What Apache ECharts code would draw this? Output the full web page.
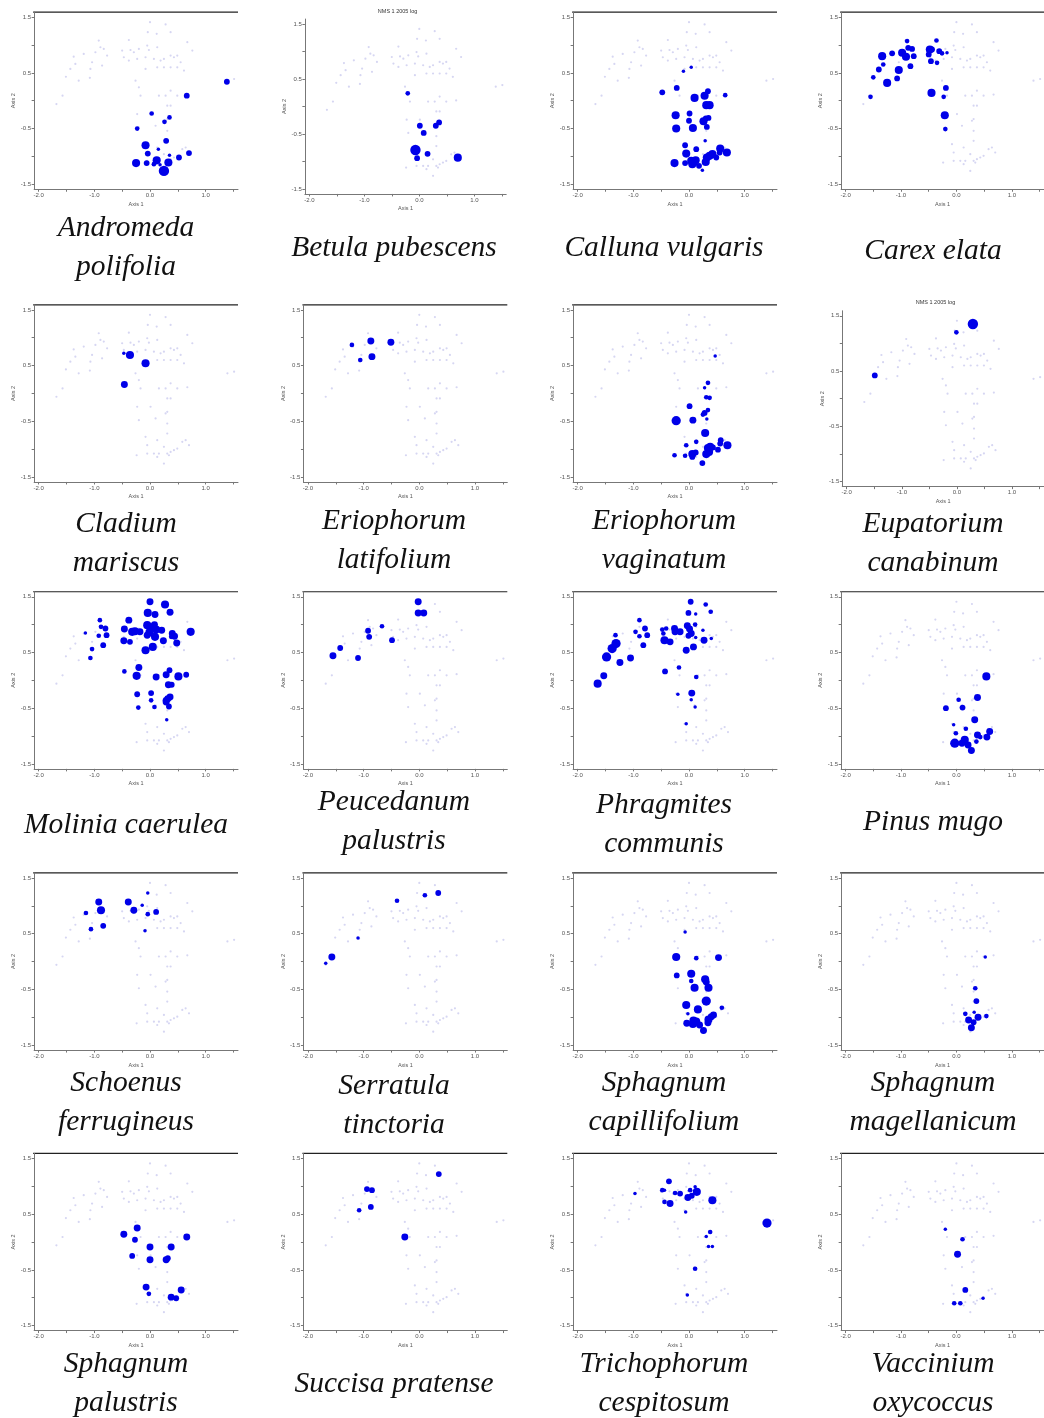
<!DOCTYPE html>
<html><head><meta charset="utf-8">
<script src="https://cdn.jsdelivr.net/npm/echarts@6/dist/echarts.min.js"></script>
<style>html,body{margin:0;padding:0;background:#fff}#c{width:1044px;height:1418px}</style>
</head><body><div id="c"></div><script>
// ---------- DATA ----------
const xTicks = [-2, -1.5, -1, -0.5, 0, 0.5, 1, 1.5];
const xTickLabels = [-2, -1, 0, 1];
const yTicks = [-1.5, -1, -0.5, 0, 0.5, 1, 1.5];
const yTickLabels = [-1.5, -0.5, 0.5, 1.5];
const panelTitle = "NMS 1 2005 log";
const axisNames = ["Axis 1", "Axis 2"];

// sample plots (NMS scores) shown faintly in every panel
const samplePlots = [
 [0.00,1.41],[0.28,1.37],[-0.04,1.23],[0.12,1.20],[0.37,1.23],[-0.38,1.09],[-0.92,1.08],[-0.05,0.99],
 [0.13,0.96],[-0.02,0.91],[0.67,1.05],[0.76,0.90],[-0.89,0.96],[-0.83,0.93],[-0.98,0.87],[-1.19,0.84],
 [-1.37,0.79],[-0.77,0.81],[-0.50,0.90],[-0.35,0.91],[-0.29,0.87],[-0.20,0.93],[-0.47,0.78],[-0.38,0.72],
 [-0.23,0.75],[-0.08,0.78],[0.07,0.75],[0.19,0.72],[0.25,0.75],[0.37,0.81],[0.43,0.78],[0.49,0.81],
 [0.55,0.69],[-1.43,0.57],[-1.34,0.66],[-1.04,0.69],[-0.86,0.63],[-1.51,0.43],[-1.07,0.57],[-1.28,0.36],
 [-1.08,0.41],[-0.08,0.57],[0.13,0.60],[0.25,0.60],[0.37,0.60],[0.49,0.60],[0.61,0.54],[-0.26,0.36],
 [-0.20,0.24],[-1.57,0.09],[-1.68,-0.06],[-0.17,0.09],[0.16,0.09],[0.28,0.09],[0.37,0.18],[0.49,0.09],
 [0.67,0.11],[1.39,0.36],[1.51,0.39],[-0.23,-0.24],[0.01,-0.24],[0.31,-0.09],[0.37,-0.09],[0.28,-0.36],
 [0.31,-0.33],[-0.20,-0.48],[0.10,-0.45],[0.31,-0.54],[-0.08,-0.78],[0.13,-0.84],[0.31,-0.72],[-0.05,-0.93],
 [0.25,-0.96],[0.58,-0.87],[0.64,-0.84],[0.70,-0.93],[0.49,-0.99],[-0.24,-1.11],[-0.05,-1.08],[0.07,-1.08],
 [0.16,-1.08],[0.31,-1.08],[0.37,-1.05],[0.43,-1.02],[0.13,-1.14],[0.25,-1.26],[0.34,-1.11]
];

const speciesNames = [
 "Andromeda\npolifolia","Betula pubescens","Calluna vulgaris","Carex elata",
 "Cladium\nmariscus","Eriophorum\nlatifolium","Eriophorum\nvaginatum","Eupatorium\ncanabinum",
 "Molinia caerulea","Peucedanum\npalustris","Phragmites\ncommunis","Pinus mugo",
 "Schoenus\nferrugineus","Serratula\ntinctoria","Sphagnum\ncapillifolium","Sphagnum\nmagellanicum",
 "Sphagnum\npalustris","Succisa pratense","Trichophorum\ncespitosum","Vaccinium\noxycoccus"
];

// [axis1, axis2, abundance]
const andromedaPolifolia = [[1.38,0.34,2],[0.66,0.09,2],[0.03,-0.23,1.5],[0.35,-0.30,1.5],[0.26,-0.38,1.5],[-0.23,-0.50,1.5],[0.29,-0.72,2],[-0.08,-0.80,3],[-0.04,-0.95,2],[0.15,-0.87,1],[0.70,-0.94,2],[0.35,-0.98,1],[0.52,-1.02,2],[-0.25,-1.12,3],[-0.06,-1.12,2],[0.12,-1.07,3],[0.07,-1.14,1.5],[0.18,-1.15,1],[0.33,-1.11,3],[0.25,-1.26,4]];
const betulaPubescens = [[-0.21,0.24,1.5],[0.01,-0.35,2],[0.08,-0.48,2],[0.30,-0.35,2],[0.36,-0.29,2],[-0.07,-0.79,4],[-0.04,-0.94,2],[0.15,-0.86,2],[0.70,-0.93,3]];
const callunaVulgaris = [[-0.10,0.53,1],[0.04,0.60,1],[-0.22,0.23,2],[-0.48,0.15,2],[0.10,0.05,3],[0.28,0.09,3],[0.34,0.17,2],[0.65,0.10,1.5],[0.31,-0.08,3],[0.37,-0.08,3],[-0.24,-0.26,3],[0.01,-0.23,2],[0.00,-0.36,2],[0.26,-0.37,3],[0.30,-0.32,2],[0.35,-0.31,2],[-0.23,-0.50,3],[0.07,-0.49,3],[0.32,-0.47,2],[0.29,-0.72,1],[-0.07,-0.80,2],[-0.05,-0.95,3],[0.13,-0.87,2],[0.56,-0.86,3],[0.55,-0.93,2],[0.68,-0.93,3],[0.37,-0.99,3],[0.42,-0.96,3],[0.32,-1.02,3],[0.49,-1.02,2],[-0.26,-1.12,3],[-0.07,-1.12,2],[0.04,-1.08,3],[0.08,-1.11,3],[0.12,-1.07,3],[0.06,-1.14,3],[0.18,-1.17,2],[0.30,-1.10,3],[0.24,-1.25,1]];
const carexElata = [[-1.55,0.07,1.5],[-1.50,0.42,1.5],[-1.40,0.56,2],[-1.32,0.65,1.5],[-1.34,0.80,3],[-1.25,0.32,3],[-1.16,0.85,2],[-1.04,0.55,3],[-1.07,0.40,2],[-0.98,0.86,3],[-0.91,0.79,3],[-0.89,1.07,1.5],[-0.87,0.95,2],[-0.80,0.93,2],[-0.77,0.80,2],[-0.83,0.62,2],[-0.48,0.92,3],[-0.44,0.92,2],[-0.50,0.83,2],[-0.36,1.08,1.5],[-0.31,0.89,2],[-0.26,0.85,1.5],[-0.17,0.86,1],[-0.46,0.71,2],[-0.35,0.68,1.5],[-0.45,0.14,3],[-0.19,0.23,2],[-0.23,0.07,1.5],[-0.21,-0.26,3],[-0.20,-0.51,1.5]];
const cladiumMariscus = [[-0.36,0.69,3],[-0.47,0.72,1],[-0.08,0.54,3],[-0.46,0.16,2.5]];
const eriophorumLatifolium = [[-1.21,0.87,1.5],[-1.06,0.60,1.5],[-0.87,0.94,2.5],[-0.85,0.66,2.5],[-0.51,0.92,2.5]];
const eriophorumVaginatum = [[0.47,0.67,1],[0.34,0.19,1.5],[0.28,0.10,1],[0.31,-0.07,1.5],[0.37,-0.08,1.5],[0.01,-0.23,2],[0.34,-0.30,1.5],[0.28,-0.35,2],[0.25,-0.38,1.5],[0.32,-0.46,1],[-0.23,-0.49,3.5],[0.07,-0.48,2.5],[0.29,-0.71,3],[-0.05,-0.93,1.5],[0.13,-0.87,1.5],[0.57,-0.84,2],[0.56,-0.90,2],[0.69,-0.93,3],[0.52,-1.01,2],[0.34,-0.98,3],[0.38,-0.96,3],[0.43,-0.97,2],[0.36,-1.05,3],[0.31,-1.09,3],[-0.26,-1.11,1.5],[-0.07,-1.12,1.5],[0.06,-1.09,3],[0.12,-1.06,2],[0.06,-1.14,2],[0.24,-1.25,2]];
const eupatoriumCanabinum = [[0.29,1.35,4],[-0.01,1.20,1.5],[-1.49,0.42,2]];
const moliniaCaerulea = [[0.00,1.41,2.5],[0.27,1.36,3],[-0.04,1.21,3],[0.09,1.18,2.5],[0.36,1.22,2.5],[-0.90,1.08,1.5],[-0.38,1.08,2.5],[-0.88,0.96,1.5],[-0.80,0.93,2],[-1.16,0.85,1],[-0.92,0.80,1.5],[-0.78,0.81,2],[-0.46,0.92,2.5],[-0.47,0.71,2.5],[-0.36,0.69,2],[-0.32,0.87,3],[-0.27,0.88,3],[-0.18,0.87,2.5],[-0.05,0.99,3],[0.02,0.95,3],[0.08,1.00,2.5],[-0.01,0.86,3],[0.11,0.91,3],[0.21,0.90,2.5],[-0.05,0.81,2.5],[0.09,0.78,3],[0.24,0.71,2.5],[0.40,0.84,2.5],[0.44,0.79,2.5],[0.48,0.67,2.5],[0.73,0.87,3],[0.38,0.78,1.5],[-0.84,0.63,2],[-1.04,0.56,1.5],[-1.07,0.40,1.5],[-0.08,0.54,3],[0.05,0.60,3],[-0.46,0.16,1.5],[-0.20,0.23,2.5],[-0.24,0.08,3],[0.11,0.06,2.5],[0.29,0.10,2.5],[0.35,0.18,2],[0.51,0.07,3],[0.65,0.10,2],[0.33,-0.08,2.5],[0.39,-0.08,2],[-0.23,-0.25,2],[0.02,-0.23,2],[0.02,-0.36,1.5],[0.29,-0.36,2.5],[0.32,-0.33,2.5],[0.36,-0.30,2.5],[0.29,-0.39,2.5],[-0.21,-0.49,1.5],[0.08,-0.48,1.5],[0.34,-0.47,2],[0.30,-0.71,1]];
const peucedanumPalustris = [[-1.55,0.44,2.5],[-1.42,0.58,2],[-1.10,0.40,2],[-0.92,0.89,2],[-0.90,0.78,2],[-0.67,0.97,1.5],[-0.49,0.72,2],[-0.02,1.41,2.5],[-0.02,1.21,2.5],[0.08,1.21,2.5]];
const phragmitesCommunis = [[-1.64,-0.06,3],[-1.53,0.08,2.5],[-1.48,0.42,3.5],[-1.38,0.57,3.5],[-1.31,0.66,3.5],[-1.32,0.81,1.5],[-1.24,0.32,2.5],[-1.05,0.40,2.5],[-0.96,0.87,1.5],[-0.89,1.08,1.5],[-0.89,0.79,1.5],[-0.82,0.63,2],[-0.79,0.93,2],[-0.75,0.81,2],[-0.48,0.91,1.5],[-0.46,0.84,1.5],[-0.44,0.72,3],[-0.41,0.93,1.5],[-0.34,0.69,2.5],[-0.26,0.93,2.5],[-0.25,0.87,2.5],[-0.16,0.87,2.5],[-0.43,0.16,2],[-0.18,0.23,1.5],[-0.05,0.54,2.5],[-0.01,0.80,2],[-0.03,0.98,2.5],[0.01,0.92,2.5],[0.11,1.00,1.5],[0.04,0.84,2.5],[0.12,0.77,1],[-0.01,1.21,2],[0.03,1.41,2],[0.12,1.19,1],[0.08,0.60,2.5],[0.27,0.72,2.5],[0.25,0.90,1],[0.30,1.36,1.5],[0.39,1.23,1.5],[0.40,0.75,1],[0.13,0.06,1.5],[-0.20,-0.25,1],[0.05,-0.23,2.5],[0.04,-0.35,1],[0.11,-0.48,1],[-0.05,-0.78,1]];
const pinusMugo = [[0.54,0.07,3],[0.38,-0.31,2.5],[0.04,-0.35,1.5],[-0.19,-0.50,2],[0.11,-0.49,2],[0.33,-0.71,2.5],[-0.05,-0.80,1],[0.17,-0.87,1.5],[-0.01,-0.95,1.5],[0.38,-0.98,2.5],[0.43,-1.02,1.5],[0.60,-0.92,2.5],[0.55,-1.02,2.5],[0.36,-1.10,1.5],[-0.03,-1.13,3.5],[0.10,-1.13,2.5],[0.15,-1.07,3],[0.21,-1.16,2.5],[0.27,-1.26,2.5]];
const schoenusFerrugineus = [[-1.15,0.87,1.5],[-0.92,1.07,2.5],[-0.88,0.92,3],[-0.84,0.64,2],[-1.06,0.58,1.5],[-0.39,1.07,2.5],[-0.29,0.92,2.5],[-0.14,1.01,1],[-0.04,1.23,1],[-0.04,0.85,1.5],[0.11,0.89,2],[-0.09,0.55,1]];
const serratulaTinctoria = [[-1.68,-0.03,1],[-1.57,0.08,2.5],[-1.10,0.42,1],[-0.40,1.09,1.5],[0.10,1.19,1.5],[0.34,1.23,2]];
const sphagnumCapillifolium = [[-0.07,0.53,1],[-0.23,0.08,3],[0.13,0.06,1.5],[0.53,0.07,2.5],[-0.22,-0.25,2],[0.04,-0.22,3],[0.04,-0.35,1.5],[0.29,-0.32,3],[0.31,-0.37,2.5],[0.10,-0.47,3],[0.35,-0.47,3],[0.31,-0.71,3.5],[-0.05,-0.78,3],[0.16,-0.86,3],[0.59,-0.83,1.5],[-0.02,-0.94,1],[0.44,-0.96,2.5],[0.40,-0.99,2.5],[0.35,-1.04,3],[0.34,-1.10,2.5],[-0.04,-1.11,2.5],[0.08,-1.06,3],[0.13,-1.08,3],[0.07,-1.12,3],[0.19,-1.14,2.5],[0.26,-1.24,2.5]];
const sphagnumMagellanicum = [[0.52,0.08,1],[0.34,-0.48,1.5],[0.36,-0.71,2],[0.16,-0.94,1.5],[0.22,-1.05,2.5],[0.27,-1.19,2.5],[0.39,-1.00,2.5],[0.54,-0.98,1.5],[0.32,-0.91,1],[0.31,-1.09,2]];
const sphagnumPalustris = [[-0.47,0.14,2.5],[-0.23,0.25,2.5],[-0.27,0.04,2],[-0.32,-0.25,2],[0.00,-0.09,2.5],[0.00,-0.32,2.5],[0.29,-0.32,2.5],[0.38,-0.09,2.5],[0.66,0.09,2.5],[-0.07,-0.81,2.5],[-0.02,-0.93,1.5],[0.38,-0.99,2.5],[0.47,-1.01,2],[0.56,-0.86,2.5],[0.32,-0.29,2]];
const succisaPratense = [[-1.08,0.57,1.5],[-0.94,0.95,2],[-0.85,0.93,2],[-0.87,0.63,2],[-0.26,0.09,2.5],[0.35,1.22,2]];
const trichophorumCespitosum = [[-0.36,1.09,2],[-0.48,0.93,1.5],[-0.44,0.93,1],[-0.97,0.87,1],[-0.25,0.88,1.5],[-0.16,0.87,2],[-0.44,0.72,1.5],[-0.34,0.69,2.5],[0.02,0.93,1.5],[0.11,0.99,1],[0.14,0.90,3],[-0.02,0.80,2.5],[0.05,0.83,2],[0.42,0.75,3],[-0.06,0.54,1],[1.40,0.34,3.5],[0.38,0.18,1.5],[0.31,0.10,1],[0.35,-0.08,1],[0.42,-0.08,1],[0.11,-0.48,1.5],[-0.03,-0.95,1]];
const vacciniumOxycoccus = [[-0.20,0.23,1],[0.11,0.05,1.5],[0.02,-0.22,2.5],[0.16,-0.86,2],[-0.04,-1.10,1.5],[0.07,-1.10,1.5],[0.48,-1.01,1]];

const speciesData = [
 andromedaPolifolia, betulaPubescens, callunaVulgaris, carexElata,
 cladiumMariscus, eriophorumLatifolium, eriophorumVaginatum, eupatoriumCanabinum,
 moliniaCaerulea, peucedanumPalustris, phragmitesCommunis, pinusMugo,
 schoenusFerrugineus, serratulaTinctoria, sphagnumCapillifolium, sphagnumMagellanicum,
 sphagnumPalustris, succisaPratense, trichophorumCespitosum, vacciniumOxycoccus
];
const titledPanels = [1, 7];

// ---------- LAYOUT ----------
const colX0 = [150, 419.3, 689, 957];
const rowY0 = [100.7, 393.4, 680.3, 961.5, 1242];
const colCenter = [126, 394, 664, 933];
const labelY = [248,248,248,251, 543.5,540.5,540.5,543.5, 825,821.5,824.5,822, 1102.5,1105.5,1102.5,1102.5, 1383.5,1384,1383.5,1383.5];
const XMIN = -2.08, XMAX = 1.58, YMIN = -1.59, YMAX = 1.59;

const grids = [], xAxes = [], yAxes = [], series = [], graphics = [];
for (let i = 0; i < 20; i++) {
  const c = i % 4, r = Math.floor(i / 4);
  let x0 = colX0[c], y0 = rowY0[r], s = 55.7;
  const titled = titledPanels.includes(i);
  if (i === 1) { y0 = 106.5; s = 55; }
  if (i === 7) { y0 = 398.7; s = 55.3; x0 = 957.3; }
  const left = x0 + XMIN * s, top = y0 - YMAX * s;
  const width = (XMAX - XMIN) * s, height = (YMAX - YMIN) * s;
  grids.push({left, top, width, height, containLabel: false});
  const lab = {fontSize: 6, color: '#555', fontFamily: 'Liberation Sans'};
  xAxes.push({gridIndex: i, type: 'value', min: XMIN, max: XMAX,
    splitLine: {show: false},
    axisLine: {onZero: false, lineStyle: {color: '#777', width: 1}},
    axisTick: {customValues: xTicks, length: 2.5, lineStyle: {color: '#777'}},
    axisLabel: Object.assign({customValues: xTickLabels, formatter: v => Number(v).toFixed(1), margin: 3}, lab),
    name: axisNames[0], nameLocation: 'middle', nameGap: 12,
    nameTextStyle: {fontSize: 5.5, color: '#555', fontFamily: 'Liberation Sans'}});
  yAxes.push({gridIndex: i, type: 'value', min: YMIN, max: YMAX,
    splitLine: {show: false},
    axisLine: {onZero: false, lineStyle: {color: '#777', width: 1}},
    axisTick: {customValues: yTicks, length: 2.5, lineStyle: {color: '#777'}},
    axisLabel: Object.assign({customValues: yTickLabels, formatter: v => Number(v).toFixed(1), margin: 3}, lab),
    name: axisNames[1], nameLocation: 'middle', nameGap: 17, nameRotate: 90,
    nameTextStyle: {fontSize: 5.5, color: '#555', fontFamily: 'Liberation Sans'}});
  series.push({type: 'scatter', xAxisIndex: i, yAxisIndex: i, data: samplePlots,
    symbolSize: 2.2, silent: true, itemStyle: {color: '#d6d6f2', opacity: 1}, z: 1});
  series.push({type: 'scatter', xAxisIndex: i, yAxisIndex: i, data: speciesData[i],
    symbolSize: v => 1.2 + v[2] * 2.3, silent: true, itemStyle: {color: '#0000e8', opacity: 1}, z: 2});
  if (!titled) {
    graphics.push({type: 'line', shape: {x1: left - 1, y1: top, x2: left + width, y2: top},
      style: {stroke: '#222', lineWidth: 1.2}, silent: true});
  } else {
    graphics.push({type: 'text', x: left + width / 2 - 8, y: top - 8,
      style: {text: panelTitle, textAlign: 'center', textVerticalAlign: 'middle',
        font: '5.5px "Liberation Sans"', fill: '#333'}});
  }
  graphics.push({type: 'text', x: colCenter[c], y: labelY[i],
    style: {text: speciesNames[i], textAlign: 'center', textVerticalAlign: 'middle',
      font: 'italic 29.5px "Liberation Serif"', lineHeight: 39, fill: '#111'}});
}

const chart = echarts.init(document.getElementById('c'), null, {renderer: 'canvas'});
chart.setOption({animation: false, backgroundColor: '#fff',
  grid: grids, xAxis: xAxes, yAxis: yAxes, series, graphic: graphics});
</script></body></html>
